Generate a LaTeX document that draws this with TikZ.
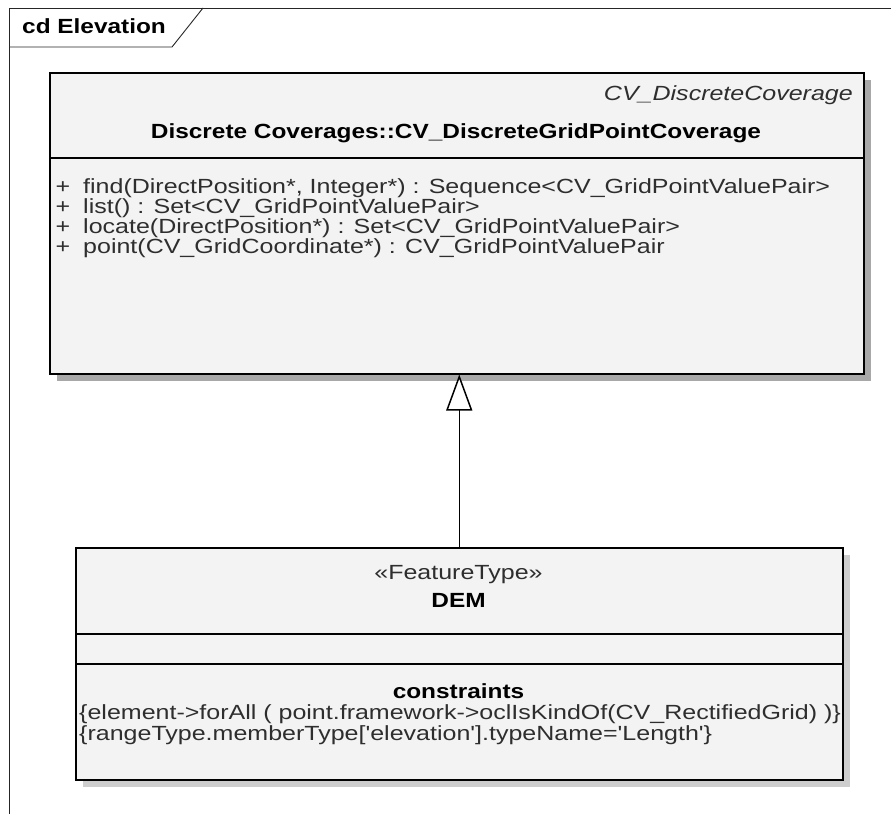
\documentclass[tikz,border=0pt]{standalone}
\usepackage{fontspec}
\setmainfont{Liberation Sans}[Ligatures={TeXOff,CommonOff}, FakeStretch=1.22, BoldFeatures={FakeStretch=1.19}]
\usetikzlibrary{shadows}
\usetikzlibrary{positioning, arrows.meta, calc}

\definecolor{boxfill}{HTML}{F3F3F3}
\definecolor{shadowdark}{HTML}{A8A8A8}
\definecolor{shadowlight}{HTML}{CDCDCD}
\definecolor{textgray}{HTML}{2E2E2E}

\begin{document}
\begin{tikzpicture}[
    x=1pt, y=-1pt,
    classbox/.style={draw, rectangle, line width=1.5pt, fill=boxfill, anchor=north west, inner sep=0pt},
    sepline/.style={line width=1.5pt},
    frameline/.style={line width=0.9pt, draw=black!85},
    txt/.style={inner sep=0pt, text height=14pt, text depth=4pt, font=\fontsize{20.5}{20}\selectfont, text=textgray},
    boldtxt/.style={txt, font=\fontsize{20.5}{20}\selectfont\bfseries, text=black},
    gen/.style={line width=1.5pt, -{Triangle[open, length=36pt, width=26pt, fill=white]}}
]
    \useasboundingbox (0,0) rectangle (891,814);

    % ================= FRAME =================
    \draw[frameline] (891,8) -- (9,8) -- (9,814);
    \draw[frameline] (9,47) -- (172,47) -- (203,8);
    \node[boldtxt, anchor=west] (tab) at (22,28) {cd Elevation};

    % ================= CLASSES =================
    \node[classbox, minimum width=814pt, minimum height=301pt,
          drop shadow={shadow xshift=7pt, shadow yshift=-7pt, fill=shadowdark, opacity=1}]
          (COV) at (49,72) {};
    \node[classbox, minimum width=767pt, minimum height=232pt,
          drop shadow={shadow xshift=7pt, shadow yshift=-7pt, fill=shadowlight, opacity=1}]
          (DEM) at (75,547) {};

    % compartments
    \draw[sepline] (COV.west |- 0,158) -- (COV.east |- 0,158);
    \draw[sepline] (DEM.west |- 0,634) -- (DEM.east |- 0,634);
    \draw[sepline] (DEM.west |- 0,664) -- (DEM.east |- 0,664);

    % ================= CV_DiscreteGridPointCoverage =================
    \node[txt, anchor=east, font=\fontsize{20.5}{20}\selectfont\itshape] (cov_stereo) at (853,95) {CV\_DiscreteCoverage};
    \node[boldtxt] (cov_name) at (456,133) {Discrete Coverages::CV\_DiscreteGridPointCoverage};

    \foreach \op [count=\i] in {
        {find(DirectPosition*, Integer*) : Sequence<CV\_GridPointValuePair>},
        {list() : Set<CV\_GridPointValuePair>},
        {locate(DirectPosition*) : Set<CV\_GridPointValuePair>},
        {point(CV\_GridCoordinate*) : CV\_GridPointValuePair}} {
        \node[txt] (plus\i) at (63,168+20*\i) {+};
        \node[txt, anchor=west] (op\i) at (83,168+20*\i) {\op};
    }

    % ================= DEM =================
    \node[txt] (dem_stereo) at (458.5,574) {«FeatureType»};
    \node[boldtxt] (dem_name) at (458.5,602) {DEM};
    \node[boldtxt] (dem_cons) at (458.5,693) {constraints};
    \node[txt, anchor=west] (cons1) at (79,714) {\{element->forAll ( point.framework->oclIsKindOf(CV\_RectifiedGrid) )\}};
    \node[txt, anchor=west] (cons2) at (79,735) {\{rangeType.memberType['elevation'].typeName='Length'\}};

    % ================= GENERALIZATION =================
    \draw[gen] (DEM.north) -- (DEM.north |- COV.south);

\end{tikzpicture}
\end{document}
